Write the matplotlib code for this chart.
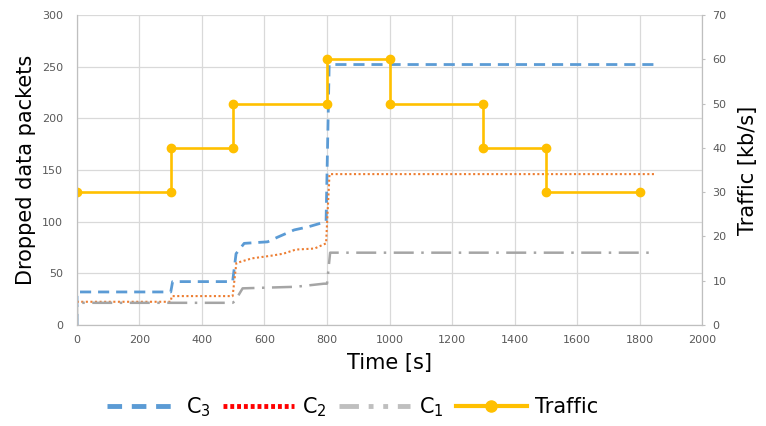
import numpy as np
import matplotlib.pyplot as plt
from matplotlib.lines import Line2D

# dropped packets
c3_t = [0, 0, 300, 306, 498, 509, 535, 610, 642, 695, 740, 797, 807, 1850]
c3_y = [0, 32, 32, 42, 42, 69, 79, 80.5, 85, 92, 95, 100, 252, 252]

c2_t = [0, 0, 300, 303, 498, 510, 560, 620, 660, 700, 760, 797, 808, 1850]
c2_y = [0, 22.5, 22.5, 28, 28, 60, 64.5, 67, 69, 73, 74, 79, 146, 146]

c1_t = [0, 0, 498, 505, 530, 700, 790, 800, 810, 1840]
c1_y = [0, 21.5, 21.5, 23, 35.5, 37, 40, 40, 70, 70]

# traffic steps
tr_t = [0, 300, 300, 500, 500, 800, 800, 1000, 1000, 1300, 1300, 1500, 1500, 1800]
tr_y = [30, 30, 40, 40, 50, 50, 60, 60, 50, 50, 40, 40, 30, 30]

col_c3 = "#5B9BD5"
col_c2 = "#ED7D31"
col_c1 = "#A5A5A5"
col_tr = "#FFC000"
tick_col = "#595959"

fig = plt.figure(figsize=(7.66, 4.26), dpi=100)
ax = fig.add_axes([0.1005, 0.237, 0.816, 0.728])
ax2 = ax.twinx()

ax.plot(c3_t, c3_y, color=col_c3, lw=2, dashes=(4, 2.5))
ax.plot(c2_t, c2_y, color=col_c2, lw=1.5, dashes=(1, 1.2))
ax.plot(c1_t, c1_y, color=col_c1, lw=1.8, dashes=(8, 3, 1, 3))
ax2.plot(tr_t, tr_y, color=col_tr, lw=1.9, marker="o", ms=6)

ax.set_xlim(0, 2000)
ax.set_ylim(0, 300)
ax2.set_ylim(0, 70)
ax.set_xticks(np.arange(0, 2001, 200))
ax.set_yticks(np.arange(0, 301, 50))
ax2.set_yticks(np.arange(0, 71, 10))

ax.grid(True, color="#D9D9D9", lw=0.9)
ax.set_axisbelow(True)
for a in (ax, ax2):
    a.spines["top"].set_visible(False)
    for s in ("bottom", "left", "right"):
        a.spines[s].set_color("#BFBFBF")
ax.tick_params(axis="x", length=0, labelsize=8, colors=tick_col, pad=7)
ax.tick_params(axis="y", length=0, labelsize=8, colors=tick_col, pad=10)
ax2.tick_params(axis="y", length=2.5, width=0.8, direction="out", color="#BFBFBF",
                labelsize=8, labelcolor=tick_col, pad=5)

ax.set_xlabel("Time [s]", fontsize=15, labelpad=6)
ax.set_ylabel("Dropped data packets", fontsize=15, labelpad=4)
ax2.set_ylabel("Traffic [kb/s]", fontsize=15, labelpad=8)

handles = [
    Line2D([], [], color=col_c3, lw=3.5, dashes=(3, 2)),
    Line2D([], [], color="#FF0000", lw=3.5, dashes=(0.8, 0.6)),
    Line2D([], [], color="#BFBFBF", lw=3.5, dashes=(4, 2, 1, 2, 1, 2)),
    Line2D([], [], color=col_tr, lw=3, marker="o", ms=8),
]
labels = ["C$_3$", "C$_2$", "C$_1$", "Traffic"]
fig.legend(handles, labels, loc="center", bbox_to_anchor=(0.46, 0.045), ncol=4,
           frameon=False, fontsize=15, handlelength=3.4, columnspacing=0.6,
           handletextpad=0.4)

fig.savefig("out.png", dpi=100)
